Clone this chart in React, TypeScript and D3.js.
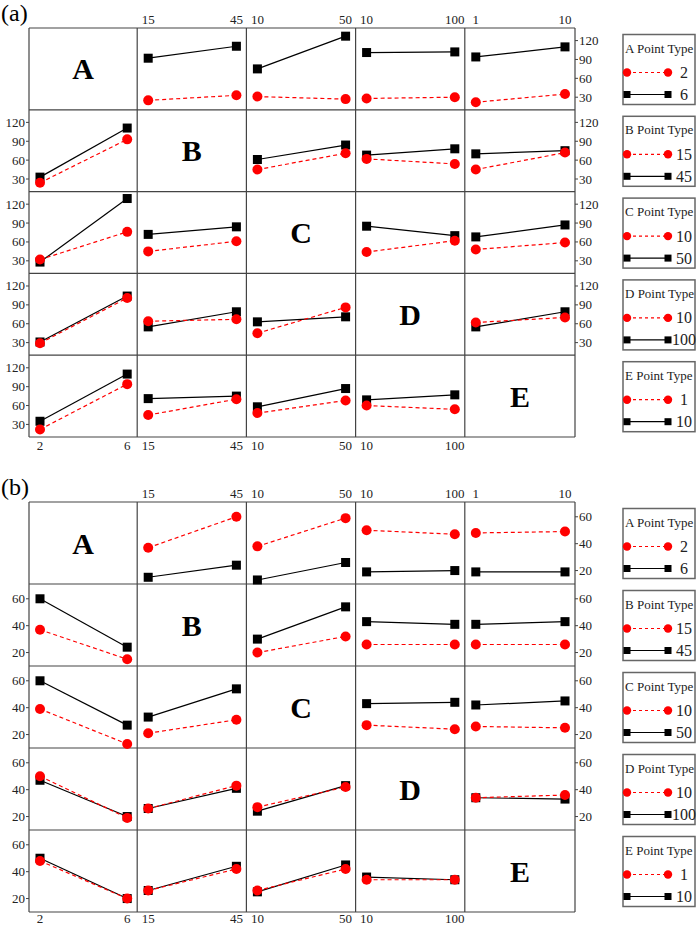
import React from "react";
import * as d3 from "d3";

// ---------- factor names and levels ----------
const factors = ["A", "B", "C", "D", "E"];
const levelsA = [2, 6];
const levelsB = [15, 45];
const levelsC = [10, 50];
const levelsD = [10, 100];
const levelsE = [1, 10];
const levels = [levelsA, levelsB, levelsC, levelsD, levelsE];

// ---------- panel (a): rows = line factor, columns = x factor ----------
// low level (red dashed) and high level (black solid), one pair per column
const aA_low = [null, [25, 33], [31, 27], [28, 30], [22, 35]];
const aA_high = [null, [92, 111], [75, 127], [101, 102], [94, 110]];
const aB_low = [[24, 93], null, [45, 71], [62, 54], [45, 72]];
const aB_high = [[33, 111], null, [61, 84], [68, 78], [70, 75]];
const aC_low = [[32, 76], [45, 61], null, [44, 62], [48, 59]];
const aC_high = [[28, 129], [72, 84], null, [85, 70], [68, 87]];
const aD_low = [[29, 101], [64, 67], [45, 86], null, [62, 70]];
const aD_high = [[31, 104], [55, 79], [63, 71], null, [55, 79]];
const aE_low = [[22, 94], [45, 70], [48, 68], [60, 54], null];
const aE_high = [[35, 110], [71, 75], [58, 87], [69, 77], null];

// ---------- panel (b) ----------
const bA_low = [null, [37, 60], [38, 59], [50, 47], [48, 49]];
const bA_high = [null, [15, 24], [13, 26], [19, 20], [19, 19]];
const bB_low = [[37, 15], null, [20, 32], [26, 26], [26, 26]];
const bB_high = [[60, 24], null, [30, 54], [43, 41], [41, 43]];
const bC_low = [[39, 13], [21, 31], null, [27, 24], [26, 25]];
const bC_high = [[60, 27], [33, 54], null, [43, 44], [42, 45]];
const bD_low = [[50, 19], [26, 43], [27, 42], null, [34, 36]];
const bD_high = [[47, 20], [26, 41], [24, 43], null, [34, 33]];
const bE_low = [[48, 20], [26, 42], [26, 42], [34, 34], null];
const bE_high = [[50, 20], [26, 44], [25, 45], [36, 34], null];

const aTicks = [30, 60, 90, 120];
const bTicks = [20, 40, 60];

const panels = [
  {
    label: "(a)",
    labelY: 21,
    top: 28,
    bottom: 437,
    bottomLabelDy: 13,
    domain: [10, 140],
    ticks: aTicks,
    low: [aA_low, aB_low, aC_low, aD_low, aE_low],
    high: [aA_high, aB_high, aC_high, aD_high, aE_high],
  },
  {
    label: "(b)",
    labelY: 495,
    top: 502,
    bottom: 912,
    bottomLabelDy: 11,
    domain: [10, 71],
    ticks: bTicks,
    low: [bA_low, bB_low, bC_low, bD_low, bE_low],
    high: [bA_high, bB_high, bC_high, bD_high, bE_high],
  },
];

const FONT = "'Liberation Serif', 'Times New Roman', serif";
const RED = "#ff0000";
const GRID = "#444";
const colEdges = [29, 137.2, 246.4, 355.6, 464.8, 575];

function Panel({ p }: { p: any }) {
  const rowH = (p.bottom - p.top) / 5;
  const rowTop = (i: number) => p.top + i * rowH;
  const xScale = (j: number) =>
    d3.scaleLinear().domain([0, 1]).range([colEdges[j] + 11, colEdges[j + 1] - 10]);
  const yScale = (i: number) =>
    d3.scaleLinear().domain(p.domain).range([rowTop(i) + rowH, rowTop(i)]);
  const line = (xs: any, ys: any, vals: number[]) =>
    d3.line<number>().x((_, k) => xs(k)).y((v) => ys(v))(vals) || "";

  const elems: any[] = [];
  for (let i = 0; i < 5; i++) {
    const ys = yScale(i);
    for (let j = 0; j < 5; j++) {
      const xs = xScale(j);
      if (i === j) {
        elems.push(
          <text
            key={`d${i}`}
            x={(colEdges[j] + colEdges[j + 1]) / 2}
            y={rowTop(i) + rowH / 2}
            textAnchor="middle"
            dominantBaseline="central"
            fontFamily={FONT}
            fontWeight="bold"
            fontSize={30}
          >
            {factors[i]}
          </text>
        );
        continue;
      }
      const hi = p.high[i][j];
      const lo = p.low[i][j];
      elems.push(
        <g key={`c${i}${j}`}>
          <path d={line(xs, ys, hi)} fill="none" stroke="#000" strokeWidth={1.2} />
          {hi.map((v: number, k: number) => (
            <rect key={k} x={xs(k) - 4.5} y={ys(v) - 4.5} width={9} height={9} fill="#000" />
          ))}
          <path d={line(xs, ys, lo)} fill="none" stroke={RED} strokeWidth={1.2} strokeDasharray="4,3" />
          {lo.map((v: number, k: number) => (
            <circle key={k} cx={xs(k)} cy={ys(v)} r={5} fill={RED} />
          ))}
        </g>
      );
    }
  }

  // grid lines
  const grid: any[] = [];
  for (let i = 0; i <= 5; i++) {
    grid.push(
      <line key={`h${i}`} x1={colEdges[0]} x2={colEdges[5]} y1={rowTop(i)} y2={rowTop(i)} stroke={GRID} strokeWidth={1.2} />
    );
    grid.push(
      <line key={`v${i}`} x1={colEdges[i]} x2={colEdges[i]} y1={p.top} y2={p.bottom} stroke={GRID} strokeWidth={1.2} />
    );
  }

  // axes labels
  const axes: any[] = [];
  for (let j = 0; j < 5; j++) {
    const xs = xScale(j);
    levels[j].forEach((lv, k) => {
      if (j !== 0)
        axes.push(
          <text key={`t${j}${k}`} x={xs(k)} y={p.top - 4} textAnchor="middle" fontFamily={FONT} fontSize={13} fill="#222">
            {lv}
          </text>
        );
      if (j !== 4)
        axes.push(
          <text key={`b${j}${k}`} x={xs(k)} y={p.bottom + p.bottomLabelDy} textAnchor="middle" fontFamily={FONT} fontSize={13} fill="#222">
            {lv}
          </text>
        );
    });
  }
  for (let i = 0; i < 5; i++) {
    const ys = yScale(i);
    p.ticks.forEach((t: number) => {
      if (i !== 0) {
        axes.push(<line key={`lt${i}${t}`} x1={colEdges[0] - 3} x2={colEdges[0]} y1={ys(t)} y2={ys(t)} stroke={GRID} />);
        axes.push(
          <text key={`ll${i}${t}`} x={colEdges[0] - 4} y={ys(t)} textAnchor="end" dominantBaseline="central" fontFamily={FONT} fontSize={13} fill="#222">
            {t}
          </text>
        );
      }
      if (i !== 4) {
        axes.push(<line key={`rt${i}${t}`} x1={colEdges[5]} x2={colEdges[5] + 3} y1={ys(t)} y2={ys(t)} stroke={GRID} />);
        axes.push(
          <text key={`rl${i}${t}`} x={colEdges[5] + 4} y={ys(t)} textAnchor="start" dominantBaseline="central" fontFamily={FONT} fontSize={13} fill="#222">
            {t}
          </text>
        );
      }
    });
  }

  // legends
  const legends = factors.map((f, i) => {
    const y0 = rowTop(i) + 6.5;
    const x0 = 623;
    return (
      <g key={`lg${i}`}>
        <rect x={x0} y={y0} width={72} height={70} fill="#fff" stroke="#666" strokeWidth={1.5} />
        <text x={x0 + 2} y={y0 + 18} fontFamily={FONT} fontSize={13} fill="#222">
          {`${f} Point Type`}
        </text>
        <line x1={627} x2={668} y1={y0 + 38} y2={y0 + 38} stroke={RED} strokeWidth={1.2} strokeDasharray="3,3" />
        <circle cx={627} cy={y0 + 38} r={4.2} fill={RED} />
        <circle cx={668} cy={y0 + 38} r={4.2} fill={RED} />
        <text x={684} y={y0 + 38} textAnchor="middle" dominantBaseline="central" fontFamily={FONT} fontSize={16} fill="#222">
          {levels[i][0]}
        </text>
        <line x1={627} x2={668} y1={y0 + 60} y2={y0 + 60} stroke="#000" strokeWidth={1.2} />
        <rect x={627 - 3.5} y={y0 + 56.5} width={7} height={7} fill="#000" />
        <rect x={668 - 3.5} y={y0 + 56.5} width={7} height={7} fill="#000" />
        <text x={684} y={y0 + 60} textAnchor="middle" dominantBaseline="central" fontFamily={FONT} fontSize={16} fill="#222">
          {levels[i][1]}
        </text>
      </g>
    );
  });

  return (
    <g>
      <text x={1} y={p.labelY} fontFamily={FONT} fontSize={24} fill="#000">
        {p.label}
      </text>
      {grid}
      {elems}
      {axes}
      {legends}
    </g>
  );
}

export default function App() {
  return (
    <svg
      width={697}
      height={926}
      style={{ position: "absolute", left: 0, top: 0, background: "#fff" }}
    >
      <rect width={697} height={926} fill="#fff" />
      {panels.map((p, idx) => (
        <Panel key={idx} p={p} />
      ))}
    </svg>
  );
}
